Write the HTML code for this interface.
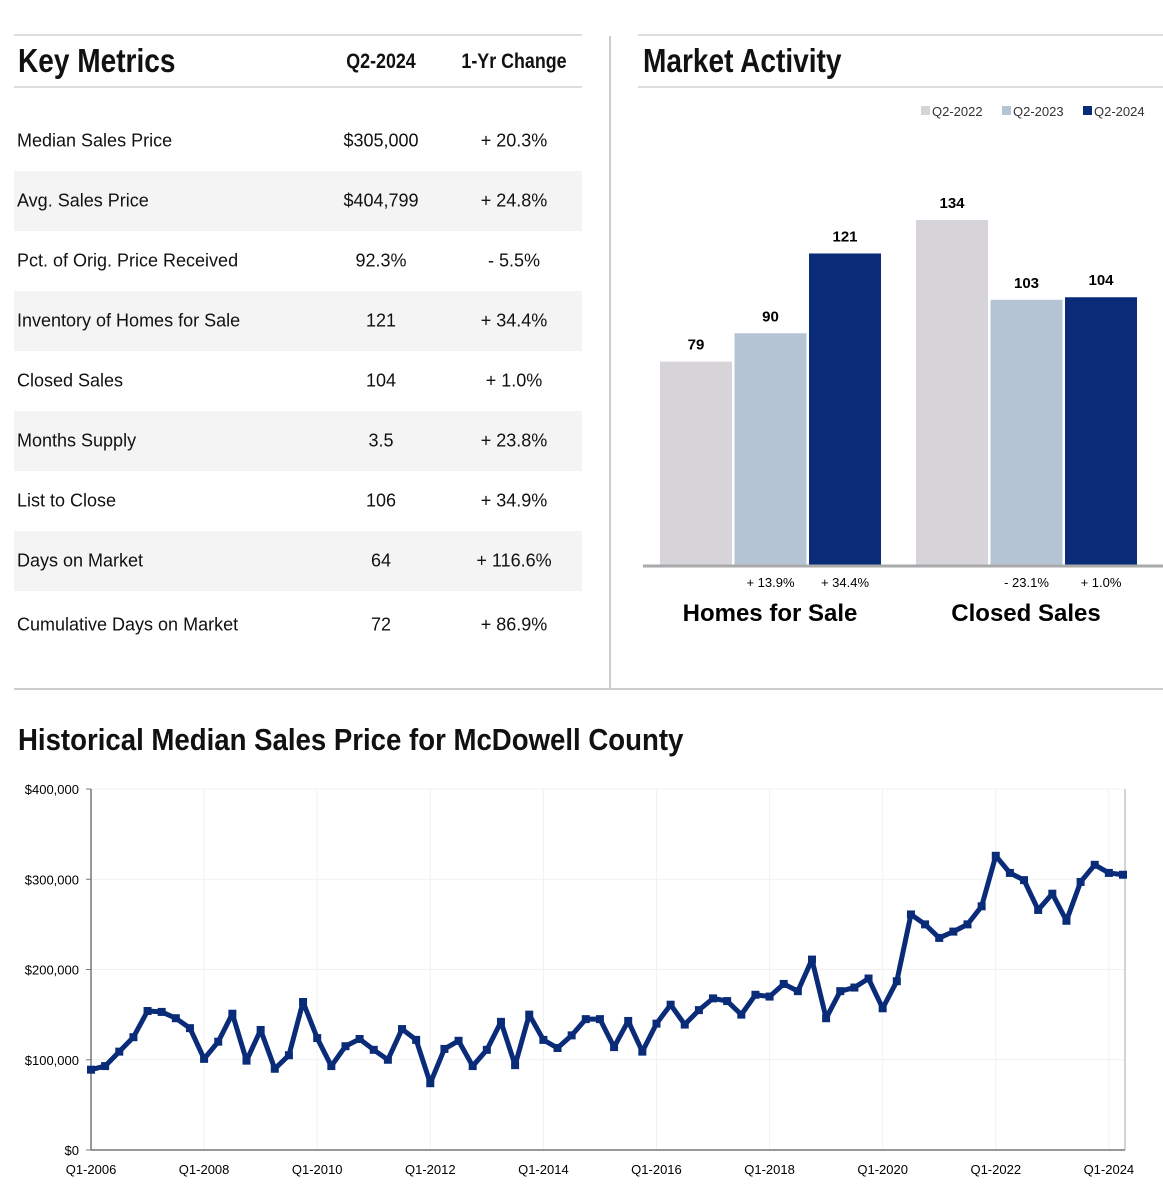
<!DOCTYPE html>
<html><head><meta charset="utf-8"><style>
body{margin:0;width:1163px;height:1200px;background:#fff;font-family:"Liberation Sans",sans-serif;position:relative;overflow:hidden;color:#111}
.a{position:absolute}
.h{font-weight:bold;font-size:33px;transform:scaleX(0.85);transform-origin:left center;white-space:nowrap}
.row{position:absolute;left:14px;width:568px;height:60px;font-size:18px}
.row span{position:absolute;top:50%;transform:translateY(-50%);white-space:nowrap}
</style></head><body>
<div class="a" style="left:14px;top:34px;width:568px;height:2px;background:#ddd"></div>
<div class="a" style="left:638px;top:34px;width:525px;height:2px;background:#ddd"></div>
<div class="a" style="left:609px;top:36px;width:2px;height:653px;background:#ccc"></div>
<div class="a" style="left:14px;top:688px;width:1149px;height:2px;background:#ccc"></div>

<div class="a h" style="left:18px;top:42px">Key Metrics</div>
<div class="a" style="left:331px;top:50px;width:100px;text-align:center;font-weight:bold;font-size:21px;transform:scaleX(0.85)">Q2-2024</div>
<div class="a" style="left:444px;top:50px;width:140px;text-align:center;font-weight:bold;font-size:21px;transform:scaleX(0.85)">1-Yr Change</div>
<div class="a" style="left:14px;top:86px;width:568px;height:2px;background:#ddd"></div>

<div id="rows"></div>

<div class="a h" style="left:643px;top:42px">Market Activity</div>
<div class="a" style="left:638px;top:86px;width:525px;height:2px;background:#ddd"></div>

<svg class="a" style="left:0;top:0" width="1163" height="690" id="bars"></svg>

<div class="a h" style="left:18px;top:722px;font-size:31px;transform:scaleX(0.89)">Historical Median Sales Price for McDowell County</div>
<svg class="a" style="left:0;top:770px" width="1163" height="430" id="line"></svg>

<script>
const metricLabels=["Median Sales Price","Avg. Sales Price","Pct. of Orig. Price Received","Inventory of Homes for Sale","Closed Sales","Months Supply","List to Close","Days on Market","Cumulative Days on Market"];
const metricValues=["$305,000","$404,799","92.3%","121","104","3.5","106","64","72"];
const metricChanges=["+ 20.3%","+ 24.8%","- 5.5%","+ 34.4%","+ 1.0%","+ 23.8%","+ 34.9%","+ 116.6%","+ 86.9%"];
const rows=document.getElementById('rows');
metricLabels.forEach((l,i)=>{
  const r=document.createElement('div');
  r.className='row';
  
  
  r.style.top=(111+i*60+(i==8?4:0))+'px';
  if(i%2==1) r.style.background='#f4f4f4';
  r.innerHTML='<span style="left:3px">'+l+'</span><span style="left:317px;width:100px;text-align:center">'+metricValues[i]+'</span><span style="left:450px;width:100px;text-align:center">'+metricChanges[i]+'</span>';
  rows.appendChild(r);
});

const NS='http://www.w3.org/2000/svg';
function mk(p,t,a,txt){const e=document.createElementNS(NS,t);for(const k in a)e.setAttribute(k,a[k]);if(txt!=null)e.textContent=txt;p.appendChild(e);return e;}

const barGroups=["Homes for Sale","Closed Sales"];
const barSeries=["Q2-2022","Q2-2023","Q2-2024"];
const barValues=[[79,90,121],[134,103,104]];
const barChanges=[["","+ 13.9%","+ 34.4%"],["","- 23.1%","+ 1.0%"]];
const barColors=["#d7d4d9","#b4c4d4","#0a2c78"];
const bs=document.getElementById('bars');
const base=565, scl=345/134;
const yB=v=>base-v*scl;
const grpX=[660,916];
barGroups.forEach((g,gi)=>{
  barValues[gi].forEach((v,si)=>{
    const x=grpX[gi]+si*74.5;
    const r=mk(bs,'rect',{x:x,y:yB(v),width:72,height:base-yB(v),fill:barColors[si]});
    
    
    const t=mk(bs,'text',{x:x+36,y:yB(v)-12,'text-anchor':'middle','font-size':15,'font-weight':'bold','font-family':'Liberation Sans'},v);
    
    
    if(barChanges[gi][si]){
      const c=mk(bs,'text',{x:x+36,y:587,'text-anchor':'middle','font-size':13,'font-family':'Liberation Sans'},barChanges[gi][si]);
      
      
    }
  });
  const gl=mk(bs,'text',{x:grpX[gi]+110,y:621,'text-anchor':'middle','font-size':24,'font-weight':'bold','font-family':'Liberation Sans'},g);
  
  
});
const ax=mk(bs,'line',{x1:643,x2:1163,y1:base+1,y2:base+1,stroke:'#aaa','stroke-width':3});


const legX=[921,1002,1083];
barSeries.forEach((s,i)=>{
  const lr=mk(bs,'rect',{x:legX[i],y:106,width:9,height:9,fill:barColors[i]});
  
  
  const lt=mk(bs,'text',{x:legX[i]+11,y:116,'font-size':13,fill:'#333','font-family':'Liberation Sans'},s);
  
  
});

const priceValues=[89,93,109,125,154,153,146,135,101,120,151,99,133,90,105,164,124,93,115,123,111,100,134,122,
74,112,121,93,111,142,94,150,122,113,127,145,145,114,143,109,140,161,139,155,168,165,150,172,170,184,176,211,
146,176,180,190,157,187,261,250,235,242,250,270,326,307,299,266,284,254,297,316,307,305];
const yTicks=[0,100000,200000,300000,400000];
const xTickLabels=["Q1-2006","Q1-2008","Q1-2010","Q1-2012","Q1-2014","Q1-2016","Q1-2018","Q1-2020","Q1-2022","Q1-2024"];
const ls=document.getElementById('line');
const X0=91,X1=1123,Y0=380,Ytop=19;
const xL=i=>X0+i*(X1-X0)/(priceValues.length-1);
const yL=v=>Y0-v/400000*(Y0-Ytop);
for(let i=0;i<xTickLabels.length;i++){
  const x=xL(i*8);
  mk(ls,'line',{x1:x,x2:x,y1:Ytop,y2:Y0,stroke:'#f1f1f1','stroke-width':1});
  const t=mk(ls,'text',{x:x,y:Y0+24,'text-anchor':'middle','font-size':13,'font-family':'Liberation Sans'},xTickLabels[i]);
  
  
}
yTicks.forEach(v=>{
  const y=yL(v);
  mk(ls,'line',{x1:X0,x2:X1+2,y1:y,y2:y,stroke:'#f1f1f1','stroke-width':1});
  mk(ls,'line',{x1:X0-5,x2:X0,y1:y,y2:y,stroke:'#777'});
  const t=mk(ls,'text',{x:X0-12,y:y+5,'text-anchor':'end','font-size':13,'font-family':'Liberation Sans'},'$'+v.toLocaleString('en-US'));
  
  
});
mk(ls,'line',{x1:X0,x2:X0,y1:Ytop,y2:Y0,stroke:'#777','stroke-width':1.5});
mk(ls,'line',{x1:X1+2,x2:X1+2,y1:Ytop,y2:Y0,stroke:'#aaa','stroke-width':1});
mk(ls,'line',{x1:X0,x2:X1+2,y1:Y0,y2:Y0,stroke:'#777','stroke-width':1.5});
const pts=priceValues.map((v,i)=>xL(i)+','+yL(v*1000)).join(' ');
const pl=mk(ls,'polyline',{points:pts,fill:'none',stroke:'#0a2c78','stroke-width':5,'stroke-linejoin':'round'});


priceValues.forEach((v,i)=>{
  const m=mk(ls,'rect',{x:xL(i)-4,y:yL(v*1000)-4,width:8,height:8,fill:'#0a2c78'});
  
  
});
</script>
</body></html>
